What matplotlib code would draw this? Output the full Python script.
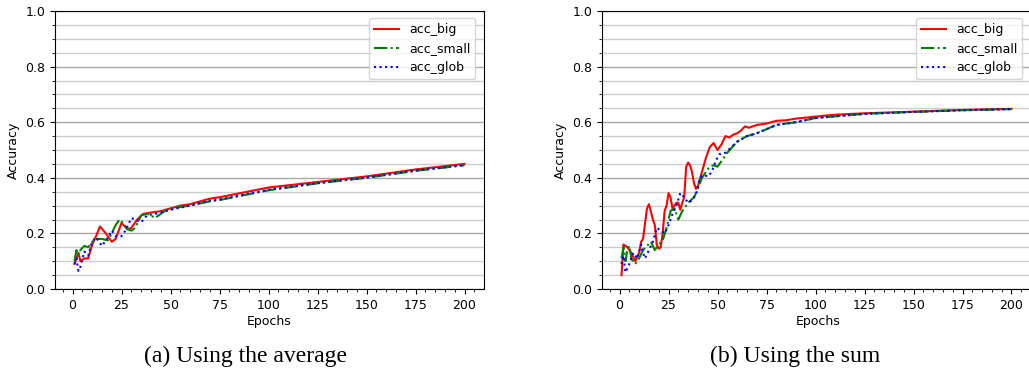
import matplotlib
matplotlib.use("Agg")
import matplotlib.pyplot as plt
from matplotlib.ticker import MultipleLocator

# ---- (a) Using the average ----
a_big_x = [1, 3, 4, 6, 8, 10, 12, 14, 17, 20, 22, 25, 28, 30, 33, 36, 40, 45, 50, 55, 60, 65, 70, 75, 100, 125, 150, 175, 200]
a_big_y = [0.09, 0.13, 0.10, 0.11, 0.11, 0.16, 0.19, 0.225, 0.20, 0.17, 0.18, 0.238, 0.215, 0.22, 0.25, 0.27, 0.275, 0.28, 0.29, 0.30, 0.305, 0.315, 0.325, 0.33, 0.365, 0.385, 0.405, 0.43, 0.45]
a_small_x = [1, 2, 3, 4, 6, 8, 10, 12, 15, 18, 20, 22, 24, 26, 28, 30, 32, 35, 38, 40, 42, 45, 48, 50, 60, 70, 75, 100, 125, 150, 175, 200]
a_small_y = [0.10, 0.14, 0.12, 0.14, 0.155, 0.15, 0.17, 0.18, 0.18, 0.175, 0.20, 0.23, 0.25, 0.235, 0.215, 0.21, 0.22, 0.265, 0.27, 0.265, 0.255, 0.27, 0.285, 0.29, 0.30, 0.315, 0.32, 0.355, 0.38, 0.40, 0.425, 0.445]
a_glob_x = [1, 2, 3, 4, 6, 8, 10, 12, 15, 18, 20, 22, 25, 27, 30, 32, 35, 38, 42, 45, 50, 60, 70, 75, 100, 125, 150, 175, 200]
a_glob_y = [0.09, 0.11, 0.065, 0.08, 0.135, 0.12, 0.17, 0.185, 0.155, 0.185, 0.21, 0.19, 0.19, 0.21, 0.255, 0.25, 0.24, 0.265, 0.27, 0.275, 0.285, 0.30, 0.318, 0.322, 0.357, 0.381, 0.401, 0.426, 0.446]

# ---- (b) Using the sum ----
b_big_x = [1, 2, 4, 6, 8, 10, 11, 12, 14, 15, 17, 18, 19, 20, 21, 22, 23, 24, 25, 26, 27, 28, 29, 30, 31, 32, 33, 34, 35, 36, 37, 38, 39, 40, 42, 44, 46, 48, 50, 52, 54, 56, 58, 60, 62, 64, 66, 70, 75, 80, 85, 90, 100, 110, 125, 150, 175, 200]
b_big_y = [0.05, 0.16, 0.15, 0.13, 0.10, 0.13, 0.17, 0.18, 0.29, 0.305, 0.25, 0.23, 0.16, 0.145, 0.15, 0.20, 0.28, 0.30, 0.345, 0.33, 0.29, 0.30, 0.31, 0.31, 0.285, 0.31, 0.33, 0.44, 0.455, 0.445, 0.42, 0.38, 0.36, 0.37, 0.42, 0.47, 0.51, 0.525, 0.50, 0.52, 0.55, 0.545, 0.555, 0.56, 0.57, 0.585, 0.58, 0.59, 0.595, 0.605, 0.607, 0.613, 0.62, 0.627, 0.632, 0.638, 0.644, 0.648]
b_small_x = [1, 2, 3, 4, 5, 6, 8, 10, 12, 14, 16, 18, 20, 22, 24, 26, 28, 30, 32, 35, 38, 40, 42, 44, 46, 48, 50, 52, 55, 60, 65, 70, 75, 80, 90, 100, 125, 150, 175, 200]
b_small_y = [0.11, 0.15, 0.10, 0.14, 0.155, 0.11, 0.09, 0.11, 0.14, 0.155, 0.17, 0.14, 0.16, 0.175, 0.22, 0.28, 0.29, 0.25, 0.28, 0.31, 0.33, 0.36, 0.40, 0.42, 0.44, 0.445, 0.44, 0.46, 0.49, 0.53, 0.55, 0.56, 0.575, 0.59, 0.60, 0.615, 0.63, 0.637, 0.643, 0.647]
b_glob_x = [1, 2, 3, 5, 7, 9, 11, 12, 13, 15, 17, 19, 21, 23, 25, 27, 29, 31, 33, 35, 37, 39, 41, 43, 45, 47, 49, 51, 54, 57, 60, 65, 70, 75, 80, 90, 100, 125, 150, 175, 200]
b_glob_y = [0.09, 0.12, 0.06, 0.09, 0.13, 0.11, 0.16, 0.13, 0.11, 0.14, 0.17, 0.22, 0.21, 0.20, 0.23, 0.27, 0.30, 0.345, 0.33, 0.31, 0.32, 0.34, 0.40, 0.41, 0.405, 0.42, 0.46, 0.485, 0.49, 0.51, 0.53, 0.55, 0.56, 0.575, 0.59, 0.60, 0.615, 0.63, 0.637, 0.643, 0.647]

legend_labels = ["acc_big", "acc_small", "acc_glob"]
captions = ["(a) Using the average", "(b) Using the sum"]

W, H = 1029, 377
fig = plt.figure(figsize=(W / 100, H / 100), dpi=100)

def make_ax(left_px, width_px, series, caption, cap_x_px):
    ax = fig.add_axes([left_px / W, (H - 289) / H, width_px / W, 278 / H])
    (bx, by), (sx, sy), (gx, gy) = series
    ax.plot(bx, by, color="red", linestyle="-", linewidth=1.5, label=legend_labels[0])
    ax.plot(sx, sy, color="green", linestyle="-.", linewidth=1.5, label=legend_labels[1])
    ax.plot(gx, gy, color="blue", linestyle=":", linewidth=1.5, label=legend_labels[2])
    ax.set_ylim(0, 1.0)
    # keep the same scale per epoch as the left panel
    span = 218.9 * width_px / 429
    ax.set_xlim(-8.95, -8.95 + span)
    ax.xaxis.set_major_locator(MultipleLocator(25))
    ax.xaxis.set_minor_locator(MultipleLocator(5))
    ax.yaxis.set_major_locator(MultipleLocator(0.2))
    ax.yaxis.set_minor_locator(MultipleLocator(0.05))
    ax.grid(which="major", axis="y", color="#a8a8a8", linewidth=1.0)
    ax.grid(which="minor", axis="y", color="#cccccc", linewidth=1.0)
    ax.set_axisbelow(True)
    ax.tick_params(labelsize=9)
    ax.set_xlabel("Epochs", fontsize=9, labelpad=2)
    ax.set_ylabel("Accuracy", fontsize=9)
    ax.legend(loc="upper left", bbox_to_anchor=(314 / width_px, 0.975),
              fontsize=9, borderaxespad=0)
    fig.text(cap_x_px / W, 1 - 356 / H, caption, ha="center", va="center",
             fontsize=17, family="Liberation Serif")
    return ax

make_ax(55, 429, [(a_big_x, a_big_y), (a_small_x, a_small_y), (a_glob_x, a_glob_y)], captions[0], 246)
make_ax(602, 432, [(b_big_x, b_big_y), (b_small_x, b_small_y), (b_glob_x, b_glob_y)], captions[1], 795)

fig.savefig("out.png", dpi=100)
